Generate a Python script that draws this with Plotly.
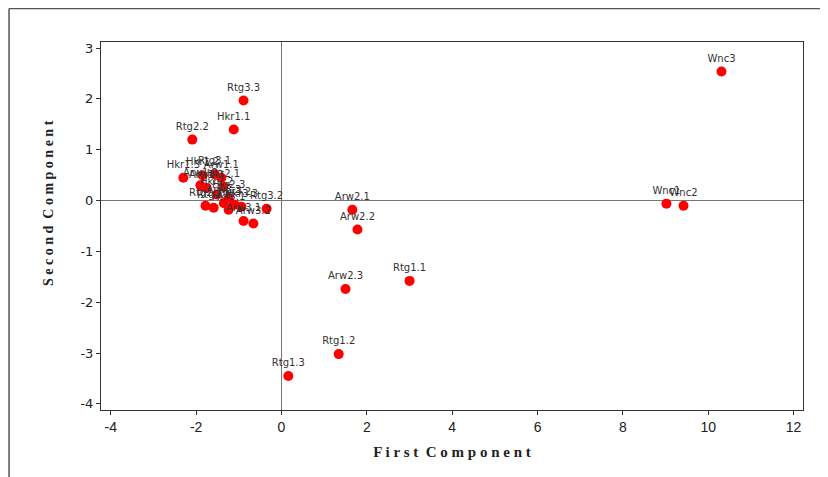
import plotly.graph_objects as go

labels = ["Wnc3", "Wnc1", "Wnc2", "Rtg3.3", "Hkr1.1", "Rtg2.2",
          "Arw2.1", "Arw2.2", "Arw2.3", "Rtg1.1", "Rtg1.2", "Rtg1.3",
          "Hkr1.3", "Hkr1.2", "Rtg3.1", "Arw1.1", "Arw1.2", "Arw1.3",
          "Hkr2.1", "Hkr2.2", "Hkr2.3", "Rtg2.1", "Rtg2.3", "Hkr3.1",
          "Hkr3.2", "Hkr3.3", "Arw3.1", "Arw3.2", "Rtg3.2", "Arw3.3"]
pc1 = [10.31, 9.02, 9.42, -0.89, -1.12, -2.09,
       1.66, 1.78, 1.50, 3.00, 1.34, 0.16,
       -2.30, -1.85, -1.57, -1.41, -1.90, -1.76,
       -1.36, -1.52, -1.24, -1.78, -1.59, -1.24,
       -1.10, -0.94, -0.89, -0.66, -0.35, -1.35]
pc2 = [2.54, -0.06, -0.10, 1.97, 1.40, 1.20,
       -0.18, -0.57, -1.74, -1.58, -3.02, -3.45,
       0.45, 0.50, 0.52, 0.45, 0.30, 0.25,
       0.27, 0.12, 0.05, -0.10, -0.14, -0.18,
       -0.08, -0.12, -0.40, -0.45, -0.16, -0.05]

x_ticks = [-4, -2, 0, 2, 4, 6, 8, 10, 12]
x_tick_labels = ["-4", "-2", "0", "2", "4", "6", "8", "10", "12"]
y_ticks = [-4, -3, -2, -1, 0, 1, 2, 3]
y_tick_labels = ["-4", "-3", "-2", "-1", "0", "1", "2", "3"]

fig = go.Figure()
fig.add_trace(go.Scatter(
    x=pc1, y=pc2, mode="markers+text", text=labels,
    textposition="top center",
    textfont=dict(family="DejaVu Sans", size=10, color="#333333"),
    marker=dict(color="#ff0000", size=10, symbol="circle", line=dict(width=0)),
    showlegend=False, cliponaxis=False,
))

axis_common = dict(showline=True, linecolor="#333333", linewidth=1, mirror=True,
                   ticks="outside", ticklen=4, tickcolor="#333333", showgrid=False,
                   zeroline=True, zerolinecolor="#777777", zerolinewidth=1)

fig.update_layout(
    width=828, height=477,
    margin=dict(l=93, r=33, t=34, b=75),
    paper_bgcolor="white", plot_bgcolor="white",
    xaxis=dict(range=[-4.23, 12.22], tickvals=x_ticks, ticktext=x_tick_labels,
               tickfont=dict(family="Liberation Sans Narrow, Liberation Sans", size=14, color="#222222"),
               title=dict(text="<b>F i r s t  C o m p o n e n t</b>", standoff=12,
                          font=dict(family="Liberation Serif", size=15, color="#222222")),
               **axis_common),
    yaxis=dict(range=[-4.12, 3.12], tickvals=y_ticks, ticktext=y_tick_labels,
               tickfont=dict(family="DejaVu Sans", size=13, color="#222222"),
               **axis_common),
    annotations=[
        dict(text="<b>S e c o n d  C o m p o n e n t</b>", textangle=-90,
             xref="paper", yref="paper", x=-0.0755, y=0.5625,
             xanchor="center", yanchor="middle", showarrow=False,
             font=dict(family="Liberation Serif", size=14, color="#222222")),
    ],
    shapes=[
        dict(type="line", xref="paper", yref="paper", x0=-0.131, x1=1.1, y0=1.091, y1=1.091,
             line=dict(color="#555555", width=1.5)),
        dict(type="line", xref="paper", yref="paper", x0=-0.131, x1=-0.131, y0=1.091, y1=-0.3,
             line=dict(color="#555555", width=1.5)),
    ],
)
fig.write_html("out.html")
